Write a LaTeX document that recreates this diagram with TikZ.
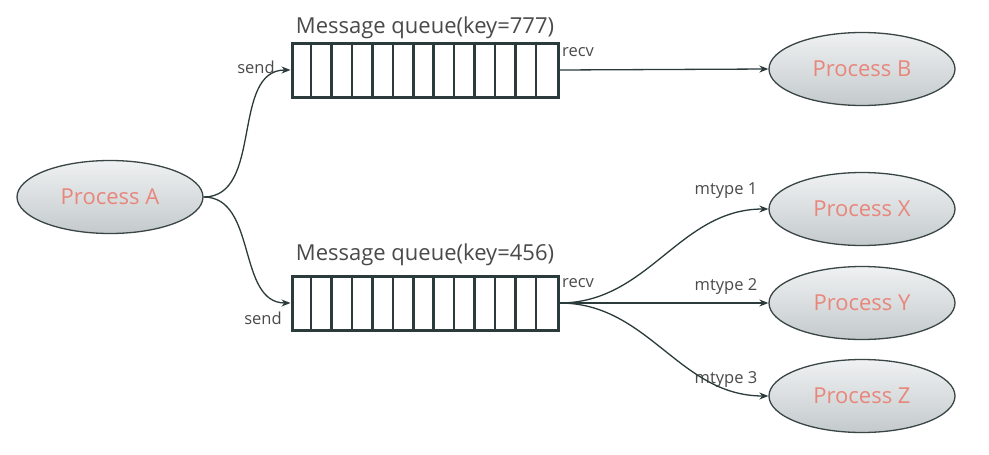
\documentclass[tikz,border=0pt]{standalone}
\usepackage{fontspec}
\setmainfont{Open Sans}
\usetikzlibrary{arrows.meta,shapes.geometric,calc}
\definecolor{qline}{HTML}{2B3A3A}
\definecolor{eline}{HTML}{3A4545}
\definecolor{ptext}{HTML}{E8867C}
\definecolor{ltext}{HTML}{4A4A4A}
\definecolor{ftop}{HTML}{EFF1F2}
\definecolor{fbot}{HTML}{C4CACC}
\tikzset{
  proc/.style={ellipse, draw=eline, line width=1.3pt, top color=ftop, bottom color=fbot,
    minimum width=186pt, minimum height=73pt, inner sep=0pt, text=ptext, font=\fontsize{22}{24}\selectfont},
  queue/.style={rectangle, draw=qline, line width=3pt, minimum width=266pt, minimum height=54pt, inner sep=0pt},
  qtitle/.style={text=ltext, font=\fontsize{22}{24}\selectfont, inner sep=0pt},
  lbl/.style={text=ltext, font=\fontsize{16.5}{18}\selectfont, inner sep=0pt},
  arr/.style={draw=qline, line width=1.3pt, -{Stealth[length=9pt,width=7pt]}}
}
\begin{document}
\begin{tikzpicture}[x=1pt,y=-1pt]
\useasboundingbox[fill=white] (0,0) rectangle (989,455);
\node[proc] (A) at (110,197) {Process A};
\node[proc] (B) at (862,69) {Process B};
\node[proc] (X) at (862,209) {Process X};
\node[proc] (Y) at (862,303) {Process Y};
\node[proc] (Z) at (862,396) {Process Z};
\node[queue] (q1) at (425,70) {};
\node[queue] (q2) at (425,303) {};
\foreach \i in {1,...,12}{
  \draw[qline, line width=2.6pt] ($(q1.north west)+(\i*266/13,0)$) -- ($(q1.south west)+(\i*266/13,0)$);
  \draw[qline, line width=2.6pt] ($(q2.north west)+(\i*266/13,0)$) -- ($(q2.south west)+(\i*266/13,0)$);
}
\node[qtitle] (t1) at (425,28) {Message queue(key=777)};
\node[qtitle] (t2) at (425,255) {Message queue(key=456)};
\node[lbl] (s1) at (256,67) {send};
\node[lbl] (r1) at (578,52) {recv};
\node[lbl] (s2) at (263,318) {send};
\node[lbl] (r2) at (578,283) {recv};
\node[lbl] (m1) at (726,191) {mtype 1};
\node[lbl] (m2) at (726,287) {mtype 2};
\node[lbl] (m3) at (726,380) {mtype 3};
\draw[arr] (A.east) to[out=0,in=180] (q1.west);
\draw[arr] (A.east) to[out=0,in=180] (q2.west);
\draw[arr] (q1.east) -- (B.west);
\draw[arr] (q2.east) to[out=0,in=180] (X.west);
\draw[arr] (q2.east) -- (Y.west);
\draw[arr] (q2.east) to[out=0,in=180] (Z.west);
\end{tikzpicture}
\end{document}
